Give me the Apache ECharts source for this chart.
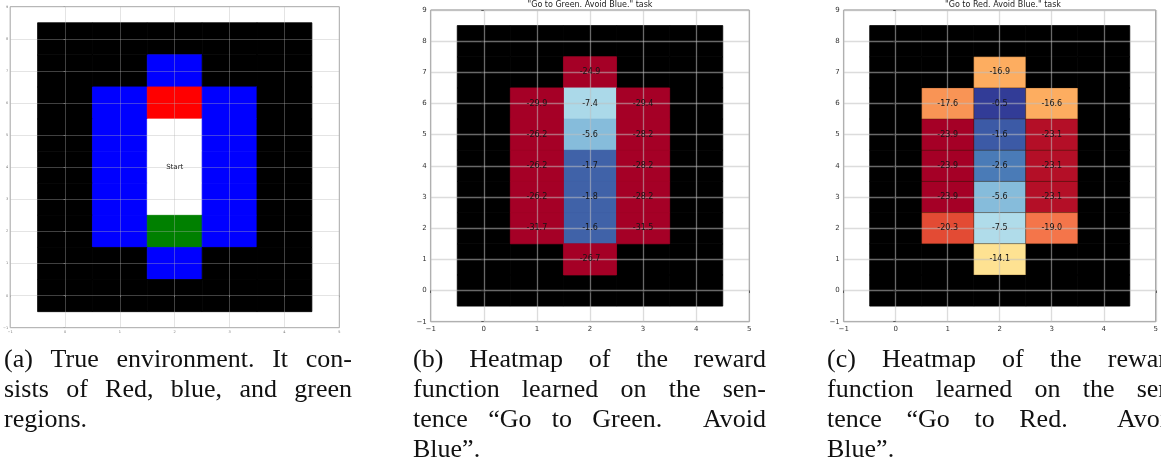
<!DOCTYPE html>
<html><head><meta charset="utf-8">
<script src="https://cdn.jsdelivr.net/npm/echarts@6/dist/echarts.min.js"></script>
<style>html,body{margin:0;padding:0;background:#fff}#c{width:1161px;height:468px}</style>
</head><body><div id="c"></div>
<script>
// ---------- data ----------
const xRange = [-1, 5];
const yRange = [-1, 9];
const boardX = [0, 1, 2, 3, 4];
const boardY = [0, 1, 2, 3, 4, 5, 6, 7, 8];
// true environment rows, top (y=8) to bottom (y=0); K black, B blue, R red, W white, G green
const envRows = ['KKKKK', 'KKBKK', 'KBRBK', 'KBWBK', 'KBWBK', 'KBWBK', 'KBGBK', 'KKBKK', 'KKKKK'];
const startCell = [2, 4];
const startLabel = 'Start';

// learned reward cells
const cellX = [2, 2, 2, 2, 2, 2, 2, 1, 1, 1, 1, 1, 3, 3, 3, 3, 3];
const cellY = [7, 6, 5, 4, 3, 2, 1, 6, 5, 4, 3, 2, 6, 5, 4, 3, 2];
const rewardGreenTask = [-24.9, -7.4, -5.6, -1.7, -1.8, -1.6, -26.7, -29.9, -26.2, -26.2, -26.2, -31.7, -29.4, -28.2, -28.2, -28.2, -31.5];
const rewardRedTask = [-16.9, -0.5, -1.6, -2.6, -5.6, -7.5, -14.1, -17.6, -23.9, -23.9, -23.9, -20.3, -16.6, -23.1, -23.1, -23.1, -19.0];

const titleGreen = '"Go to Green. Avoid Blue." task';
const titleRed = '"Go to Red. Avoid Blue." task';

const captionA = ['(a) True environment. It con-', 'sists of Red, blue, and green', 'regions.'];
const captionB = ['(b) Heatmap of the reward', 'function learned on the sen-', 'tence \u201cGo to Green.  Avoid', 'Blue\u201d.'];
const captionC = ['(c) Heatmap of the reward', 'function learned on the sen-', 'tence \u201cGo to Red.  Avoid', 'Blue\u201d.'];

// ---------- styles ----------
const envColors = { K: '#000000', B: '#0000ff', R: '#ff0000', W: '#ffffff', G: '#008000' };
const greenPieces = [
  { max: -20, color: '#a50026' },
  { min: -20, max: -6.5, color: '#abd9e9' },
  { min: -6.5, max: -4, color: '#86bcdb' },
  { min: -4, color: '#4062a8' }
];
const redPieces = [
  { max: -23.5, color: '#a50026' },
  { min: -23.5, max: -22, color: '#b40f27' },
  { min: -22, max: -19.8, color: '#e34b34' },
  { min: -19.8, max: -18, color: '#f4754a' },
  { min: -18, max: -17.2, color: '#f99455' },
  { min: -17.2, max: -15, color: '#fdad60' },
  { min: -15, max: -10, color: '#fee292' },
  { min: -10, max: -6.5, color: '#b0dcea' },
  { min: -6.5, max: -4, color: '#86bcdb' },
  { min: -4, max: -2, color: '#4a7bb7' },
  { min: -2, max: -1, color: '#3c5aa6' },
  { min: -1, color: '#323c97' }
];

const grids = [
  { left: 9.3, top: 6.7, width: 330, height: 321 },
  { left: 430.7, top: 10, width: 318.6, height: 311.7 },
  { left: 843.7, top: 10, width: 318.6, height: 311.7 }
];

const fmt = v => (v < 0 ? '\u2212' + Math.abs(v) : String(v));

function mkAxes(i, small) {
  const common = {
    type: 'value', gridIndex: i, interval: 1, z: 3,
    axisLine: { show: false },
    axisTick: { show: true, length: small ? 1.5 : 2.5, lineStyle: { color: small ? '#999' : '#444', width: small ? 0.6 : 0.8 } },
    axisLabel: { fontSize: small ? 3.5 : 7, color: small ? '#777' : '#333', fontFamily: 'DejaVu Sans', margin: small ? 2 : 4, formatter: fmt },
    splitLine: { show: true, lineStyle: small ? { color: 'rgba(180,180,180,0.4)', width: 0.9 } : { color: 'rgba(191,191,191,0.55)', width: 1.3 } }
  };
  return [
    Object.assign({}, common, { min: xRange[0], max: xRange[1] }),
    Object.assign({}, common, { min: yRange[0], max: yRange[1] })
  ];
}

const axesA = mkAxes(0, true), axesB = mkAxes(1, false), axesC = mkAxes(2, false);

function rectFor(api, x, y) {
  const p0 = api.coord([x - 0.5, y + 0.5]);
  const p1 = api.coord([x + 0.5, y - 0.5]);
  return { x: p0[0], y: p0[1], width: p1[0] - p0[0], height: p1[1] - p0[1] };
}

const envData = [];
envRows.forEach((row, r) => {
  const y = boardY[boardY.length - 1 - r];
  row.split('').forEach((ch, c) => envData.push([boardX[c], y, ch]));
});
const boardData = [];
boardX.forEach(x => boardY.forEach(y => boardData.push([x, y])));

const greenData = cellX.map((x, i) => [x, cellY[i], rewardGreenTask[i]]);
const redData = cellX.map((x, i) => [x, cellY[i], rewardRedTask[i]]);

function boardSeries(gi) {
  return {
    type: 'custom', xAxisIndex: gi, yAxisIndex: gi, z: 1, silent: true,
    data: boardData,
    renderItem: (p, api) => ({ type: 'rect', shape: rectFor(api, api.value(0), api.value(1)), style: { fill: '#000', stroke: '#000', lineWidth: 0.8 } })
  };
}
function cellSeries(gi, data, edge) {
  return {
    type: 'custom', xAxisIndex: gi, yAxisIndex: gi, z: 1.5, silent: true,
    data: data, encode: { x: 0, y: 1 },
    renderItem: (p, api) => {
      const col = api.visual('color');
      return { type: 'rect', shape: rectFor(api, api.value(0), api.value(1)), style: { fill: col, stroke: edge || col, lineWidth: 0.8 } };
    }
  };
}
function labelSeries(gi, data) {
  return {
    type: 'custom', xAxisIndex: gi, yAxisIndex: gi, z: 5, silent: true,
    data: data, encode: { x: 0, y: 1 },
    renderItem: (p, api) => {
      const pt = api.coord([api.value(0), api.value(1)]);
      return {
        type: 'text', x: pt[0], y: pt[1],
        style: { text: api.value(2).toFixed(1), fill: '#151515', font: '8px "DejaVu Sans"', align: 'center', verticalAlign: 'middle', textAlign: 'center', textVerticalAlign: 'middle' }
      };
    }
  };
}

// ---------- captions (justified) ----------
const capFont = '26px "Liberation Serif"';
const mctx = document.createElement('canvas').getContext('2d');
mctx.font = capFont;
function caption(lines, x0, width, y0, lh) {
  const els = [];
  lines.forEach((line, li) => {
    const words = [], gaps = [];
    let pending = 0;
    line.split(' ').forEach(t => {
      if (t === '') { pending++; return; }
      if (words.length) gaps.push(1 + pending);
      pending = 0;
      words.push(t);
    });
    const ww = words.map(t => mctx.measureText(t).width);
    const total = ww.reduce((a, b) => a + b, 0);
    const gw = gaps.reduce((a, b) => a + b, 0);
    const last = li === lines.length - 1;
    const unit = (last || gw === 0) ? mctx.measureText(' ').width : (width - total) / gw;
    let x = x0;
    const y = y0 + li * lh;
    words.forEach((t, i) => {
      els.push({ type: 'text', x: x, y: y, silent: true,
        style: { text: t, font: capFont, fill: '#111', verticalAlign: 'middle', textVerticalAlign: 'middle' } });
      x += ww[i] + (i < gaps.length ? gaps[i] * unit : 0);
    });
  });
  return els;
}

function titleEl(text, gi) {
  const g = grids[gi];
  return { type: 'text', x: g.left + g.width / 2, y: 4.5, silent: true,
    style: { text: text, font: '8px "DejaVu Sans"', fill: '#222', align: 'center', verticalAlign: 'middle', textAlign: 'center', textVerticalAlign: 'middle' } };
}

const chart = echarts.init(document.getElementById('c'), null, { renderer: 'canvas' });
chart.setOption({
  animation: false,
  backgroundColor: '#fff',
  grid: grids.map((g, i) => Object.assign({ show: true, backgroundColor: '#fff', borderColor: i === 0 ? '#aaa' : '#888', borderWidth: 1 }, g)),
  xAxis: [axesA[0], axesB[0], axesC[0]],
  yAxis: [axesA[1], axesB[1], axesC[1]],
  visualMap: [
    { type: 'piecewise', show: false, seriesIndex: 3, dimension: 2, pieces: greenPieces },
    { type: 'piecewise', show: false, seriesIndex: 6, dimension: 2, pieces: redPieces }
  ],
  series: [
    {
      type: 'custom', xAxisIndex: 0, yAxisIndex: 0, z: 1, silent: true,
      data: envData,
      renderItem: (p, api) => {
        const ch = envData[p.dataIndex][2];
        const col = envColors[ch];
        return { type: 'rect', shape: rectFor(api, api.value(0), api.value(1)), style: { fill: col, stroke: col, lineWidth: 0.8 } };
      }
    },
    {
      type: 'custom', xAxisIndex: 0, yAxisIndex: 0, z: 5, silent: true,
      data: [startCell],
      renderItem: (p, api) => {
        const pt = api.coord([api.value(0), api.value(1)]);
        return { type: 'text', x: pt[0], y: pt[1],
          style: { text: startLabel, fill: '#222', font: '7px "DejaVu Sans"', align: 'center', verticalAlign: 'middle', textAlign: 'center', textVerticalAlign: 'middle' } };
      }
    },
    boardSeries(1),
    cellSeries(1, greenData, null),
    labelSeries(1, greenData),
    boardSeries(2),
    cellSeries(2, redData, 'rgba(60,30,0,0.35)'),
    labelSeries(2, redData)
  ],
  graphic: [titleEl(titleGreen, 1), titleEl(titleRed, 2)]
    .concat(caption(captionA, 4, 348, 360, 30))
    .concat(caption(captionB, 413, 353, 360, 30))
    .concat(caption(captionC, 827, 353, 360, 30))
});
</script></body></html>
